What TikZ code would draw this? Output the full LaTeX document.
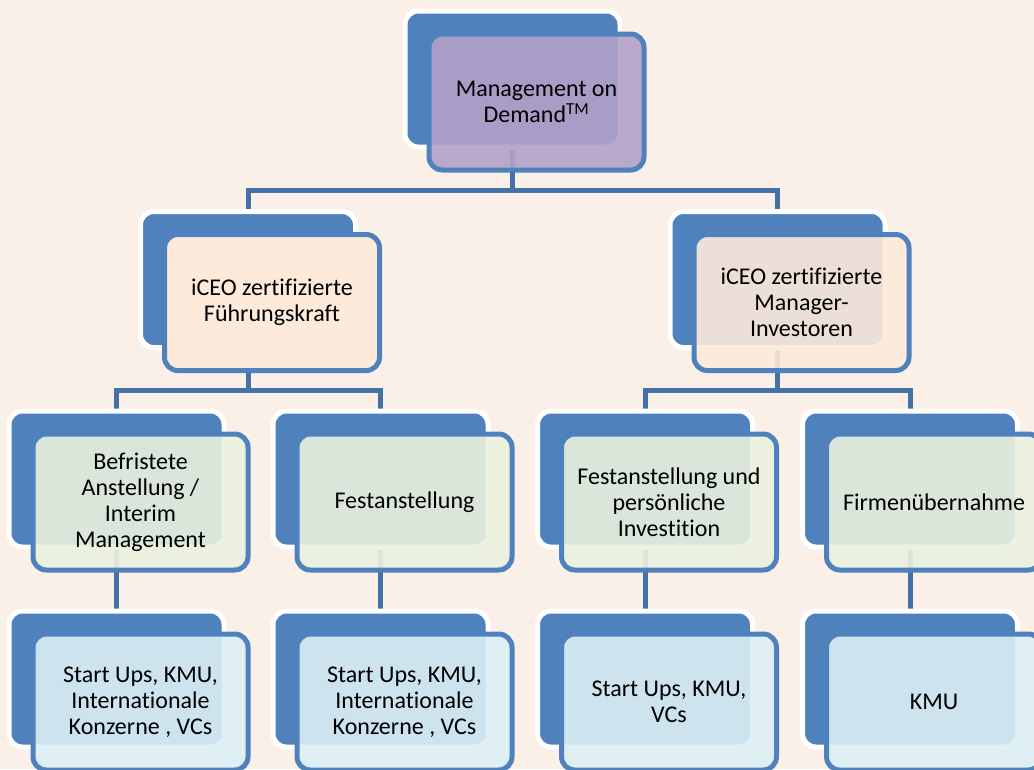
\documentclass[tikz,border=0pt]{standalone}
\usepackage{fontspec}
\setmainfont{Carlito}[Ligatures=NoCommon]
\usepackage{tikz}
\usetikzlibrary{positioning}
\definecolor{paper}{RGB}{250,240,231}
\definecolor{boxblue}{RGB}{79,129,189}
\definecolor{linkblue}{RGB}{66,114,166}
\definecolor{lavender}{RGB}{178,161,199}
\definecolor{peach}{RGB}{253,234,218}
\definecolor{palegreen}{RGB}{235,241,222}
\definecolor{paleblue}{RGB}{219,238,244}
\pgfdeclarelayer{paperlayer}
\pgfdeclarelayer{linklayer}
\pgfsetlayers{paperlayer,linklayer,main}

\begin{document}
\begin{tikzpicture}[x=0.75pt, y=-0.75pt,%
		back/.style={draw=white, fill=boxblue, line width=3.75pt, rounded corners=10pt,%
			minimum width=161.25pt, minimum height=102pt, inner sep=0pt},%
		front/.style={draw=boxblue, fill=#1, line width=3.75pt, rounded corners=10pt,%
			minimum width=161.25pt, minimum height=102pt, inner sep=0pt, align=center,%
			font=\fontsize{18}{19.5}\selectfont, fill opacity=0.9, text opacity=1},%
		link/.style={draw=linkblue, line width=3.75pt},%
		]
	\useasboundingbox (0,0) rectangle (1034,769);
	\begin{pgfonlayer}{paperlayer}
		\fill[paper] (0,0) rectangle (1034,769);
	\end{pgfonlayer}
	\clip (0,0) rectangle (1034,769);
	% back boxes
	\node[back] (mod-b) at (512.5,79) {};
	\node[back] (fk-b) at (248,279.5) {};
	\node[back] (mi-b) at (777.5,279.5) {};
	\node[back] (bef-b) at (116.5,479) {};
	\node[back] (fest-b) at (380.5,479) {};
	\node[back] (fpi-b) at (645,479) {};
	\node[back] (fue-b) at (910,479) {};
	\node[back] (z1-b) at (116.5,679) {};
	\node[back] (z2-b) at (380.5,679) {};
	\node[back] (z3-b) at (645,679) {};
	\node[back] (z4-b) at (910,679) {};
	% front boxes
	\node[front=lavender] (mod) at ([shift={(24,23)}]mod-b.center) {Management on\\Demand\textsuperscript{TM}};
	\node[front=peach, fill opacity=1] (fk) at ([shift={(24,23)}]fk-b.center) {iCEO zertifizierte\\Führungskraft};
	\node[front=peach] (mi) at ([shift={(24,23)}]mi-b.center) {iCEO zertifizierte\\Manager-\\Investoren};
	\node[front=palegreen] (bef) at ([shift={(24,23)}]bef-b.center) {Befristete\\Anstellung /\\Interim\\Management};
	\node[front=palegreen] (fest) at ([shift={(24,23)}]fest-b.center) {Festanstellung};
	\node[front=palegreen] (fpi) at ([shift={(24,23)}]fpi-b.center) {Festanstellung und\\persönliche\\Investition};
	\node[front=palegreen] (fue) at ([shift={(24,23)}]fue-b.center) {Firmenübernahme};
	\node[front=paleblue] (z1) at ([shift={(24,23)}]z1-b.center) {Start Ups, KMU,\\Internationale\\Konzerne , VCs};
	\node[front=paleblue] (z2) at ([shift={(24,23)}]z2-b.center) {Start Ups, KMU,\\Internationale\\Konzerne , VCs};
	\node[front=paleblue] (z3) at ([shift={(24,23)}]z3-b.center) {Start Ups, KMU,\\VCs};
	\node[front=paleblue] (z4) at ([shift={(24,23)}]z4-b.center) {KMU};
	% connectors
	\coordinate (j1) at (512.5,190);
	\coordinate (j2l) at (248,390);
	\coordinate (j2r) at (777.5,390);
	\begin{pgfonlayer}{linklayer}
		\draw[link] (mod-b) -- (j1);
		\draw[link] (fk-b) |- (j1) -| (mi-b);
		\draw[link] (fk-b) -- (j2l);
		\draw[link] (bef-b) |- (j2l) -| (fest-b);
		\draw[link] (mi-b) -- (j2r);
		\draw[link] (fpi-b) |- (j2r) -| (fue-b);
		\draw[link] (bef-b) -- (z1-b);
		\draw[link] (fest-b) -- (z2-b);
		\draw[link] (fpi-b) -- (z3-b);
		\draw[link] (fue-b) -- (z4-b);
	\end{pgfonlayer}
\end{tikzpicture}
\end{document}
